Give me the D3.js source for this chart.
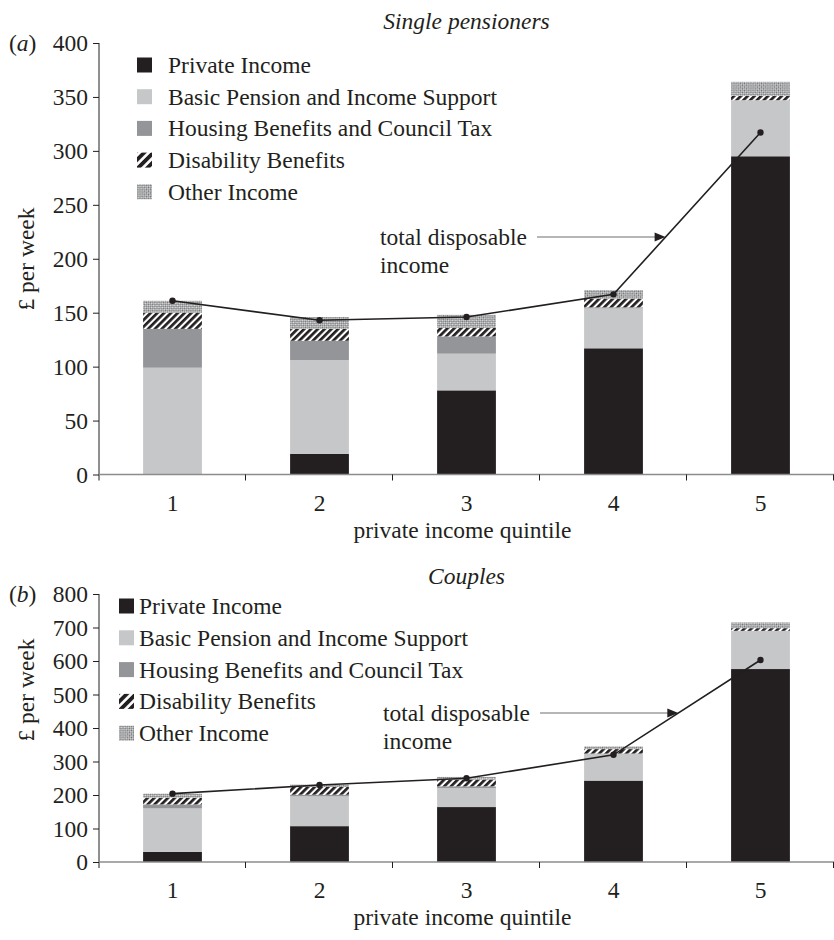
<!DOCTYPE html>
<html>
<head>
<meta charset="utf-8">
<script src="https://cdn.jsdelivr.net/npm/d3@7"></script>
<style>
  body { margin: 0; background: #fff; }
  text { font-family: "Liberation Serif", "Times New Roman", serif; fill: #231f20; }
</style>
</head>
<body>
<svg id="chart" width="834" height="940"></svg>
<script>
// ---- data ----
const quintiles = ["1", "2", "3", "4", "5"];
const seriesNames = [
  "Private Income",
  "Basic Pension and Income Support",
  "Housing Benefits and Council Tax",
  "Disability Benefits",
  "Other Income"
];

// Single pensioners, £ per week
const singlePrivate    = [0, 19, 78, 117, 295];
const singleBasic      = [99, 87, 34, 37, 52];
const singleHousing    = [36, 18, 16, 1, 0];
const singleDisability = [15, 11, 8, 8, 4];
const singleOther      = [11, 11, 12, 8, 13];
const singleTotal      = [161, 143, 146, 167, 317];
const singleTicks      = [0, 50, 100, 150, 200, 250, 300, 350, 400];

// Couples, £ per week
const couplePrivate    = [30, 107, 164, 243, 576];
const coupleBasic      = [130, 89, 57, 79, 114];
const coupleHousing    = [12, 5, 5, 2, 0];
const coupleDisability = [20, 23, 20, 13, 8];
const coupleOther      = [12, 7, 8, 8, 17];
const coupleTotal      = [204, 230, 250, 320, 603];
const coupleTicks      = [0, 100, 200, 300, 400, 500, 600, 700, 800];

// ---- drawing ----
const svg = d3.select("#chart");
const FONT = 23.5;
const fills = ["#231f20", "#c6c7c8", "#939598", "url(#hatch)", "url(#checker)"];
const legendFills = ["#231f20", "#c6c7c8", "#939598", "url(#hatchBig)", "url(#checker)"];

const defs = svg.append("defs");
function stripes(id, size, ink) {
  const p = defs.append("pattern")
    .attr("id", id).attr("patternUnits", "userSpaceOnUse")
    .attr("width", size).attr("height", size)
    .attr("patternTransform", "rotate(45)");
  p.append("rect").attr("width", size).attr("height", size).attr("fill", "#fff");
  p.append("rect").attr("width", ink).attr("height", size).attr("fill", "#231f20");
}
stripes("hatch", 4.8, 2.7);
stripes("hatchBig", 6.5, 3.8);

// fine diagonal checker for "Other Income"
const checker = defs.append("pattern")
  .attr("id", "checker").attr("patternUnits", "userSpaceOnUse")
  .attr("width", 3).attr("height", 3)
  .attr("patternTransform", "rotate(45)");
checker.append("rect").attr("width", 3).attr("height", 3).attr("fill", "#e6e6e6");
checker.append("rect").attr("width", 1.5).attr("height", 1.5).attr("fill", "#6d6e71");
checker.append("rect").attr("x", 1.5).attr("y", 1.5).attr("width", 1.5).attr("height", 1.5).attr("fill", "#6d6e71");

function drawPanel(cfg) {
  const g = svg.append("g");
  const x = d3.scaleBand().domain(quintiles)
    .range([cfg.left, cfg.right]).paddingInner(0.6).paddingOuter(0.3);
  const step = x.step();
  const y = d3.scaleLinear().domain([0, cfg.yMax]).range([cfg.bottom, cfg.top]);

  // stacked bars
  const rows = quintiles.map((q, i) => {
    const r = { q };
    cfg.series.forEach((s, k) => r[seriesNames[k]] = s[i]);
    return r;
  });
  const stacked = d3.stack().keys(seriesNames)(rows);
  g.selectAll("g.layer").data(stacked).join("g")
    .attr("class", "layer")
    .attr("fill", (d, k) => fills[k])
    .selectAll("rect").data(d => d).join("rect")
    .attr("x", d => x(d.data.q))
    .attr("width", x.bandwidth())
    .attr("y", d => y(d[1]))
    .attr("height", d => y(d[0]) - y(d[1]));

  // y axis
  const yAxis = d3.axisLeft(y).tickValues(cfg.ticks).tickSize(6).tickPadding(5);
  const ya = g.append("g").attr("transform", `translate(${cfg.left},0)`).call(yAxis);
  ya.select(".domain").attr("stroke", "#231f20").attr("d", `M0,${cfg.top}V${cfg.bottom + 6}`);
  ya.selectAll(".tick line").attr("stroke", "#231f20");
  ya.selectAll(".tick text").attr("font-size", FONT)
    .attr("font-family", "Liberation Serif").attr("fill", "#231f20");

  // x axis: baseline with ticks between quintiles
  const xa = g.append("g");
  xa.append("line").attr("x1", cfg.left).attr("x2", cfg.right)
    .attr("y1", cfg.bottom).attr("y2", cfg.bottom)
    .attr("stroke", "#8c8c8c").attr("stroke-width", 1.6);
  const edges = quintiles.map(q => x(q) - step * 0.3).concat([cfg.right]);
  xa.selectAll("line.tk").data(edges.slice(1)).join("line").attr("class", "tk")
    .attr("x1", d => d - 0.5).attr("x2", d => d - 0.5)
    .attr("y1", cfg.bottom).attr("y2", cfg.bottom + 6)
    .attr("stroke", "#231f20");
  xa.selectAll("text").data(quintiles).join("text")
    .attr("x", d => x(d) + x.bandwidth() / 2)
    .attr("y", cfg.bottom + 36)
    .attr("text-anchor", "middle").attr("font-size", FONT).text(d => d);
  g.append("text").attr("x", (cfg.left + cfg.right) / 2 - 4).attr("y", cfg.bottom + 63)
    .attr("text-anchor", "middle").attr("font-size", FONT).text("private income quintile");

  // y label, panel tag, title
  g.append("text")
    .attr("transform", `translate(34,${cfg.yLabelY}) rotate(-90)`)
    .attr("text-anchor", "middle").attr("font-size", FONT).text("£ per week");
  const tag = g.append("text").attr("x", 9).attr("y", cfg.top + 8).attr("font-size", FONT);
  tag.append("tspan").text("(");
  tag.append("tspan").attr("font-style", "italic").text(cfg.tag);
  tag.append("tspan").text(")");
  g.append("text").attr("x", (cfg.left + cfg.right) / 2).attr("y", cfg.titleY)
    .attr("text-anchor", "middle").attr("font-style", "italic").attr("font-size", FONT)
    .text(cfg.title);

  // legend
  const lg = g.append("g");
  seriesNames.forEach((name, k) => {
    const ly = cfg.legendY + k * cfg.legendGap;
    lg.append("rect").attr("x", cfg.legendX).attr("y", ly - 7.5)
      .attr("width", 15).attr("height", 15).attr("fill", legendFills[k]);
    lg.append("text").attr("x", cfg.legendTextX).attr("y", ly + 8)
      .attr("font-size", FONT).text(name);
  });

  // total disposable income line
  const pts = cfg.total.map((v, i) => [x(quintiles[i]) + x.bandwidth() / 2, y(v)]);
  g.append("path").attr("d", d3.line()(pts))
    .attr("fill", "none").attr("stroke", "#231f20").attr("stroke-width", 1.6);
  g.selectAll("circle.pt").data(pts).join("circle").attr("class", "pt")
    .attr("cx", d => d[0]).attr("cy", d => d[1]).attr("r", 3.2).attr("fill", "#231f20");

  // annotation with arrow pointing at the line between quintiles 4 and 5
  const ay = cfg.annY;
  const [p4, p5] = [pts[3], pts[4]];
  const t = (ay - p4[1]) / (p5[1] - p4[1]);
  const ax = p4[0] + t * (p5[0] - p4[0]);
  g.append("text").attr("x", cfg.annX).attr("y", ay + 8).attr("font-size", FONT).text("total disposable");
  g.append("text").attr("x", cfg.annX).attr("y", ay + 36).attr("font-size", FONT).text("income");
  g.append("line").attr("x1", cfg.annX + 157).attr("x2", ax - 8)
    .attr("y1", ay).attr("y2", ay).attr("stroke", "#6d6e71").attr("stroke-width", 1.2);
  g.append("path").attr("d", `M${ax},${ay}L${ax - 11},${ay - 4.5}L${ax - 11},${ay + 4.5}Z`)
    .attr("fill", "#231f20");
}

drawPanel({
  title: "Single pensioners", tag: "a",
  series: [singlePrivate, singleBasic, singleHousing, singleDisability, singleOther],
  total: singleTotal, ticks: singleTicks, yMax: 400,
  left: 99, right: 834, top: 43, bottom: 474.5, titleY: 29, yLabelY: 259,
  legendX: 137, legendTextX: 168, legendY: 65, legendGap: 31.7,
  annX: 380, annY: 237
});

drawPanel({
  title: "Couples", tag: "b",
  series: [couplePrivate, coupleBasic, coupleHousing, coupleDisability, coupleOther],
  total: coupleTotal, ticks: coupleTicks, yMax: 800,
  left: 99, right: 834, top: 594, bottom: 862, titleY: 584, yLabelY: 690,
  legendX: 119, legendTextX: 139, legendY: 606, legendGap: 31.8,
  annX: 383, annY: 713
});
</script>
</body>
</html>
